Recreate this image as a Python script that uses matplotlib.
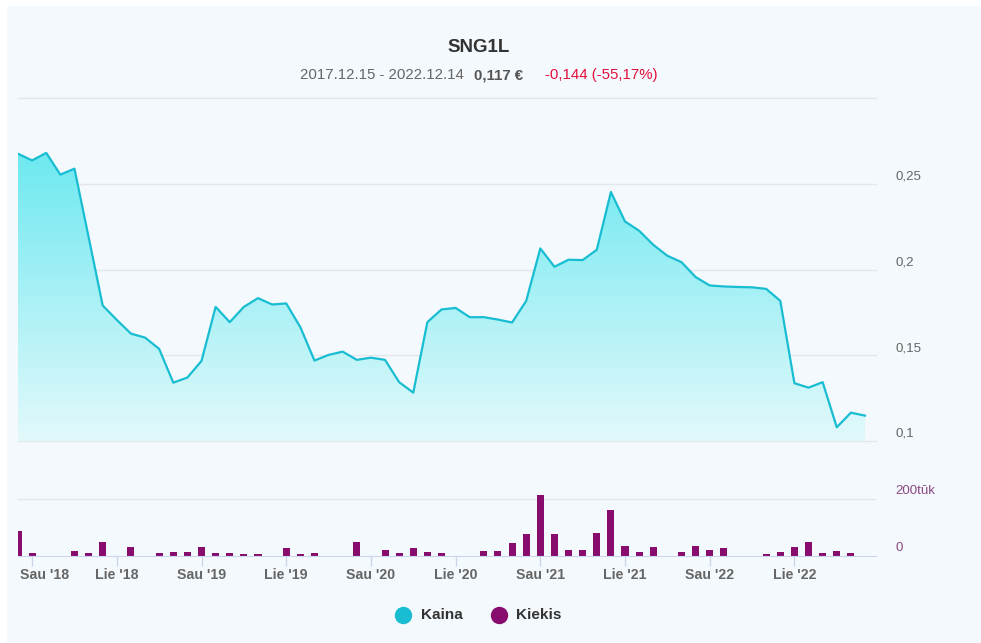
import numpy as np
import matplotlib.pyplot as plt
from matplotlib.lines import Line2D
from matplotlib.patches import Rectangle
import matplotlib.transforms as mtransforms

plt.rcParams['font.family'] = ['Liberation Sans', 'DejaVu Sans']

# monthly close price, Dec 2017 .. Dec 2022 (EUR)
price = [0.2675, 0.2636, 0.2680, 0.2553, 0.2588, 0.219, 0.179, 0.1706, 0.1626, 0.1603,
         0.1537, 0.134, 0.137, 0.1467, 0.1782, 0.1693, 0.1782, 0.1833, 0.1796, 0.1802,
         0.1664, 0.1469, 0.1502, 0.1521, 0.1473, 0.1486, 0.1473, 0.1343, 0.1282, 0.1693,
         0.1767, 0.1776, 0.1722, 0.1722, 0.1708, 0.1691, 0.1817, 0.2123, 0.2016, 0.2057,
         0.2055, 0.2115, 0.2452, 0.228, 0.2226, 0.2144, 0.208, 0.2043, 0.1956, 0.1907,
         0.1901, 0.1898, 0.1896, 0.1887, 0.1817, 0.1337, 0.1311, 0.1343, 0.108, 0.1165,
         0.1148]
# monthly volume, thousand shares
volume = [88, 9, 0, 0, 18, 9, 48, 0, 31, 0,
          9, 14, 14, 31, 9, 9, 6, 6, 0, 27,
          6, 9, 0, 0, 48, 0, 22, 9, 27, 14,
          9, 0, 0, 18, 18, 45, 77, 215, 77, 22,
          22, 80, 162, 35, 14, 31, 0, 14, 35, 22,
          27, 0, 0, 6, 14, 31, 48, 9, 18, 9,
          0]
tick_pos = [1, 7, 13, 19, 25, 31, 37, 43, 49, 55]
tick_labels = ["Sau '18", "Lie '18", "Sau '19", "Lie '19", "Sau '20",
               "Lie '20", "Sau '21", "Lie '21", "Sau '22", "Lie '22"]
price_ticks = [0.1, 0.15, 0.2, 0.25]
price_tick_labels = ['0,1', '0,15', '0,2', '0,25']

W, H = 981, 643
fig = plt.figure(figsize=(W / 100, H / 100), dpi=100, facecolor='white')
fig.add_artist(Rectangle((7 / W, 0), 1, 1 - 6 / H, transform=fig.transFigure,
                         facecolor='#f4f9fd', edgecolor='none', zorder=-10))

left, right = 18, 876
ax = fig.add_axes([left / W, 1 - 441 / H, (right - left) / W, 343 / H])
axv = fig.add_axes([left / W, 1 - 556 / H, (right - left) / W, 86 / H])
x = np.arange(len(price))
xmax = (right - left) / ((865 - left) / 60)

for a in (ax, axv):
    a.set_facecolor('none')
    for s in a.spines.values():
        s.set_visible(False)
    a.set_xlim(0, xmax)

# price panel
for v in [0.1, 0.15, 0.2, 0.25, 0.3]:
    ax.axhline(v, color='#e3e6ea', lw=1, zorder=0, clip_on=False)

bottom_c = np.array([226, 249, 251]) / 255
top_c = np.array([88, 230, 238]) / 255
t = np.linspace(0, 1, 256)[:, None]
grad = np.ones((256, 1, 4))
grad[:, 0, :3] = bottom_c + t * (top_c - bottom_c)
poly = ax.fill_between(x, price, 0.1, color='none', lw=0)
im = ax.imshow(grad, extent=[0, 60, 0.1, 0.3], aspect='auto', origin='lower', zorder=1)
im.set_clip_path(poly.get_paths()[0], transform=ax.transData)
ax.plot(x, price, color='#19bdd2', lw=1.6, zorder=3, solid_joinstyle='round')
ax.set_xlim(0, xmax)
ax.set_ylim(0.1, 0.3)
ax.set_xticks([])
ax.set_yticks([])
for v, lab in zip(price_ticks, price_tick_labels):
    ax.annotate(lab, xy=(1, v), xycoords=('axes fraction', 'data'),
                xytext=(19 * 0.72, 7 * 0.72), textcoords='offset points',
                ha='left', va='center', fontsize=9.6, color='#666666')

# volume panel
axv.axhline(200, color='#e3e6ea', lw=1, zorder=0)
axv.bar(x, volume, width=0.5, color='#870c6d', zorder=2)
axv.set_ylim(0, 303)
axv.set_xlim(0, xmax)
axv.spines['bottom'].set_visible(True)
axv.spines['bottom'].set_color('#ccd6eb')
axv.set_yticks([])
axv.set_xticks(tick_pos)
axv.tick_params(axis='x', length=7.2, width=1, color='#ccd6eb', labelbottom=False)
for v, lab in [(200, '200tūk'), (0, '0')]:
    axv.annotate(lab, xy=(1, v), xycoords=('axes fraction', 'data'),
                 xytext=(19 * 0.72, 8 * 0.72), textcoords='offset points',
                 ha='left', va='center', fontsize=9.6, color='#8a4a80')

tr = mtransforms.blended_transform_factory(axv.transData, fig.transFigure)
for i, (p, lab) in enumerate(zip(tick_pos, tick_labels)):
    if i == 0:
        fig.text(20.5 / W, 1 - 575 / H, lab, ha='left', va='center',
                 fontsize=10.2, fontweight='bold', color='#666666')
    else:
        axv.text(p, 1 - 575 / H, lab, transform=tr, ha='center', va='center',
                 fontsize=10.2, fontweight='bold', color='#666666')

# title / subtitle
fig.text(478.5 / W, 1 - 47 / H, 'SNG1L', ha='center', va='center',
         fontsize=13.5, fontweight='bold', color='#333333')
fig.text(300 / W, 1 - 75 / H, '2017.12.15 - 2022.12.14', ha='left', va='center',
         fontsize=10.8, color='#666666')
fig.text(474 / W, 1 - 75 / H, '0,117 €', ha='left', va='center',
         fontsize=10.8, fontweight='bold', color='#555555')
fig.text(545 / W, 1 - 75 / H, '-0,144 (-55,17%)', ha='left', va='center',
         fontsize=10.8, color='#e4103c')

# legend
for cx, tx, col, lab in [(403, 421, '#19bdd2', 'Kaina'), (499, 516, '#870c6d', 'Kiekis')]:
    fig.add_artist(Line2D([cx / W], [1 - 615 / H], marker='o', markersize=11.5,
                          color=col, linestyle='', transform=fig.transFigure))
    fig.text(tx / W, 1 - 615 / H, lab, ha='left', va='center',
             fontsize=11, fontweight='bold', color='#333333')

fig.savefig('out.png', dpi=100, facecolor=fig.get_facecolor())
